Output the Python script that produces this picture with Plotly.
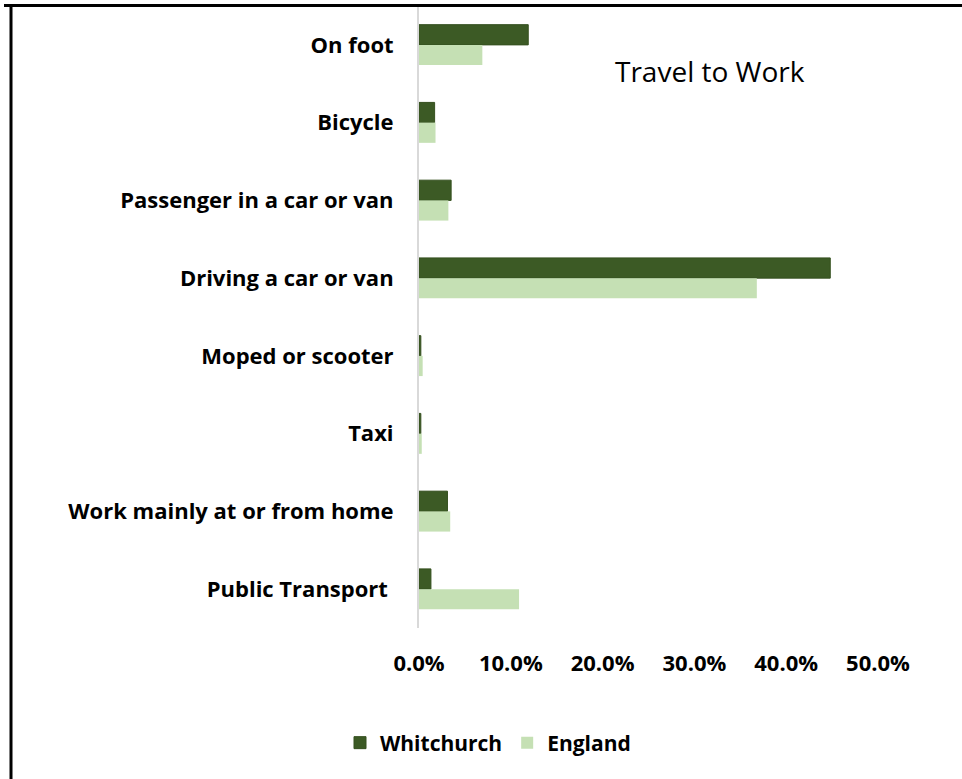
import plotly.graph_objects as go

categories = ["On foot", "Bicycle", "Passenger in a car or van", "Driving a car or van",
              "Moped or scooter", "Taxi", "Work mainly at or from home", "Public Transport\u00a0"]
whitchurch = [0.119, 0.017, 0.035, 0.448, 0.002, 0.002, 0.031, 0.013]
england = [0.069, 0.018, 0.032, 0.368, 0.004, 0.003, 0.034, 0.109]
x_ticks = [0, 0.1, 0.2, 0.3, 0.4, 0.5]

FONT = "Open Sans"
L, R, T, B = 419, 84, 6, 151
W, H = 962, 779
pw, ph = W - L - R, H - T - B

def px(x):
    return (x - L) / pw

def py(y):
    return (H - B - y) / ph

fig = go.Figure()
fig.add_trace(go.Bar(y=categories, x=whitchurch, orientation="h", name="Whitchurch",
                     marker=dict(color="#3C5A25", line=dict(color="#35501f", width=1))))
fig.add_trace(go.Bar(y=categories, x=england, orientation="h", name="England",
                     marker=dict(color="#C5E0B4", line=dict(width=0))))

fig.update_layout(
    width=W, height=H,
    margin=dict(l=L, r=R, t=T, b=B, pad=0),
    paper_bgcolor="white", plot_bgcolor="white",
    barmode="group", bargap=0.48, bargroupgap=0,
    font=dict(family=FONT, color="#000000"),
    showlegend=True,
    legend=dict(orientation="h", x=px(340), xanchor="left", y=py(743), yanchor="middle",
                font=dict(family=FONT, size=21, color="#000", weight="bold"), itemwidth=30,
                traceorder="normal"),
    xaxis=dict(range=[0, 0.5], tickvals=x_ticks, tickformat=".1%", showgrid=False,
               zeroline=False, showline=False, ticks="",
               tickfont=dict(family=FONT, size=22, color="#000", weight="bold"),
               ticklabelstandoff=20),
    yaxis=dict(autorange="reversed", showgrid=False, zeroline=False, showline=True,
               linecolor="#D9D9D9", linewidth=2, ticks="",
               tickfont=dict(family=FONT, size=22, color="#000", weight="bold"),
               ticklabelstandoff=19),
    annotations=[dict(text="Travel to Work", x=px(710), y=py(71), xref="paper", yref="paper",
                      showarrow=False, xanchor="center", yanchor="middle",
                      font=dict(family=FONT, size=28, color="#000"))],
    shapes=[
        dict(type="line", xref="paper", yref="paper", x0=px(4), x1=px(962), y0=py(5.5), y1=py(5.5),
             line=dict(color="black", width=3)),
        dict(type="line", xref="paper", yref="paper", x0=px(11), x1=px(11), y0=py(5.5), y1=py(779),
             line=dict(color="black", width=3)),
    ],
)

fig.write_html("out.html", config={"displayModeBar": False},
               post_script="document.body.style.margin='0';")
